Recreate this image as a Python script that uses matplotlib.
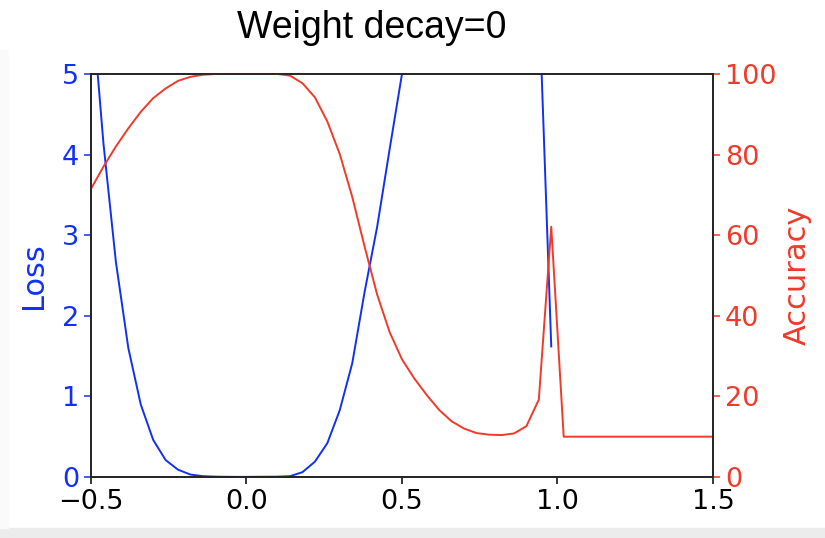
import matplotlib
matplotlib.use("Agg")
import matplotlib.pyplot as plt
import numpy as np
from matplotlib.patches import Rectangle

# sample positions along the interpolation path
x = np.linspace(-0.5, 1.5, 51)

loss = [6.0, 4.14, 2.67, 1.60, 0.90, 0.46, 0.21, 0.09, 0.03, 0.01,
        0.004, 0.002, 0.001, 0.002, 0.003, 0.004, 0.01, 0.06, 0.19, 0.42,
        0.83, 1.41, 2.30, 3.10, 4.06, 5.0, 6.1, 7.4, 8.8, 10.3,
        11.7, 12.9, 13.6, 13.4, 12.1, 9.5, 6.0, 1.62, np.nan, np.nan,
        np.nan, np.nan, np.nan, np.nan, np.nan, np.nan, np.nan, np.nan, np.nan, np.nan,
        np.nan]

accuracy = [71.5, 77.0, 82.0, 86.5, 90.6, 94.0, 96.4, 98.3, 99.3, 99.8,
            100, 100, 100, 100, 100, 100, 99.6, 97.7, 94.2, 88.2,
            80.1, 69.5, 57.1, 45.3, 36.0, 29.2, 24.4, 20.3, 16.6, 13.8,
            12.0, 10.9, 10.5, 10.4, 10.8, 12.6, 19.2, 62.1, 10.0, 10.0,
            10.0, 10.0, 10.0, 10.0, 10.0, 10.0, 10.0, 10.0, 10.0, 10.0,
            10.0]

blue = '#1030f5'
red = '#f03a2a'

fig = plt.figure(figsize=(8.25, 5.38), dpi=100)
# screenshot border
fig.patches.append(Rectangle((0, 0), 1, 10 / 538, transform=fig.transFigure,
                             color='#ececec', zorder=-10))
fig.patches.append(Rectangle((0, 10 / 538), 8 / 825, 478 / 538, transform=fig.transFigure,
                             color='#fafafa', zorder=-10))

ax = fig.add_axes([0.1103, 0.1134, 0.7539, 0.7491])
ax2 = ax.twinx()

ax.plot(x, loss, color=blue, lw=1.4)
ax2.plot(x, accuracy, color=red, lw=1.4)

ax.set_xlim(-0.5, 1.5)
ax.set_ylim(0, 5)
ax2.set_ylim(0, 100)
ax.set_xticks([-0.5, 0.0, 0.5, 1.0, 1.5])
ax.set_yticks([0, 1, 2, 3, 4, 5])
ax2.set_yticks([0, 20, 40, 60, 80, 100])

ax.set_ylabel('Loss', color=blue, fontsize=22, labelpad=10)
ax2.set_ylabel('Accuracy', color=red, fontsize=22, labelpad=5)

ax.tick_params(axis='x', labelsize=19.5, length=5, width=1.1, colors='black')
ax.tick_params(axis='y', labelsize=19.5, length=5, width=1.1, colors=blue)
ax2.tick_params(axis='y', labelsize=19.5, length=5, width=1.1, colors=red)

for a in (ax, ax2):
    for s in a.spines.values():
        s.set_linewidth(1.2)
        s.set_color('#222222')

fig.text(0.451, 0.929, 'Weight decay=0', fontsize=27, family='Liberation Sans',
         ha='center', va='baseline')

fig.savefig('out.png', dpi=100)
